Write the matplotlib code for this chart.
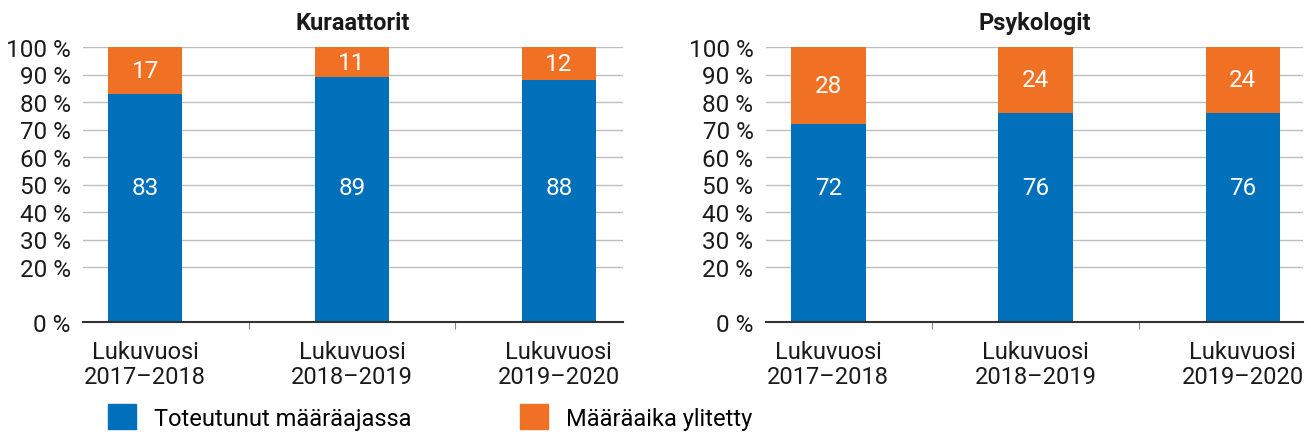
import numpy as np
import matplotlib
matplotlib.use("Agg")
import matplotlib.pyplot as plt
from matplotlib.patches import Patch

plt.rcParams['font.family'] = ['Roboto', 'DejaVu Sans']

categories = ["Lukuvuosi\n2017–2018", "Lukuvuosi\n2018–2019", "Lukuvuosi\n2019–2020"]
kuraattorit_ok = [83, 89, 88]
kuraattorit_late = [17, 11, 12]
psykologit_ok = [72, 76, 76]
psykologit_late = [28, 24, 24]
yticks = [0, 20, 30, 40, 50, 60, 70, 80, 90, 100]

BLUE = "#0070BA"
ORANGE = "#F07124"
GRID = "#BDBDBD"
TXT = "#1a1a1a"

fig = plt.figure(figsize=(13.11, 4.39), dpi=100)
W, H = 1311, 439

def make_axes(x0, x1):
    return fig.add_axes([x0 / W, 1 - 323 / H, (x1 - x0) / W, 275 / H])

ax1 = make_axes(83, 623)
ax2 = make_axes(766, 1303)

def draw(ax, ok, late, title, xr):
    x = np.arange(len(categories))
    w = 0.36
    ax.bar(x, ok, width=w, color=BLUE, zorder=3)
    ax.bar(x, late, width=w, bottom=ok, color=ORANGE, zorder=3)
    for xi, a, b in zip(x, ok, late):
        ax.text(xi, 49, str(a), color="white", ha="center", va="center", fontsize=17.5, zorder=4)
        ax.text(xi, a + b / 2, str(b), color="white", ha="center", va="center", fontsize=17.5, zorder=4)
    ax.set_xlim(-0.30, xr)
    ax.set_ylim(0, 100)
    ax.set_yticks(yticks)
    ax.set_yticklabels([f"{v} %" for v in yticks], fontsize=17.5, color=TXT)
    ax.tick_params(axis="y", length=0, pad=9)
    ax.set_xticks(x)
    ax.set_xticklabels(categories, fontsize=17, color=TXT, linespacing=1.1)
    ax.set_xticks([0.5, 1.5], minor=True)
    ax.tick_params(axis="x", which="major", length=0, pad=13)
    ax.tick_params(axis="x", which="minor", length=5, width=0.8, color="#888888")
    ax.yaxis.grid(True, color=GRID, linewidth=1, zorder=0)
    ax.set_axisbelow(True)
    for s in ["top", "right", "left"]:
        ax.spines[s].set_visible(False)
    ax.spines["bottom"].set_color("#333333")
    ax.spines["bottom"].set_linewidth(1.5)
    ax.spines["bottom"].set_zorder(5)
    ax.set_title(title, fontsize=17, fontweight="bold", color=TXT, pad=13)

draw(ax1, kuraattorit_ok, kuraattorit_late, "Kuraattorit", 2.31)
draw(ax2, psykologit_ok, psykologit_late, "Psykologit", 2.29)

for color, label, xpos in [(BLUE, "Toteutunut määräajassa", 108), (ORANGE, "Määräaika ylitetty", 520)]:
    fig.legend(handles=[Patch(color=color, label=label)],
               loc="center left", bbox_to_anchor=(xpos / W, 1 - 418 / H), frameon=False,
               fontsize=17, handlelength=1.2, handleheight=1.2, handletextpad=0.75,
               borderpad=0, borderaxespad=0)

fig.savefig("out.png", dpi=100)
